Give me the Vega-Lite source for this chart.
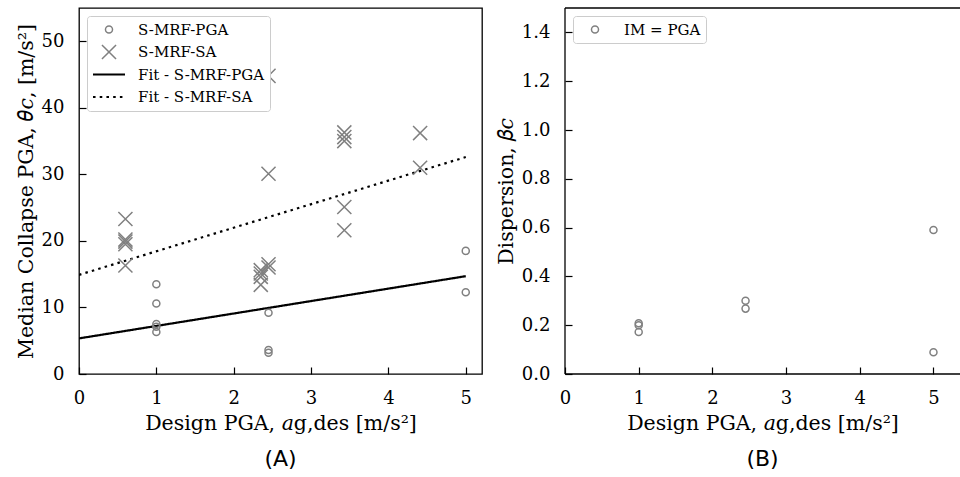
{
  "$schema": "https://vega.github.io/schema/vega-lite/v6.json",
  "background": "white",
  "padding": {"left": 15, "top": 7, "right": 0, "bottom": 0},
  "bounds": "flush",
  "spacing": 83,
  "resolve": {"scale": {"color": "independent", "shape": "independent", "strokeDash": "independent"}},
  "config": {
    "font": "DejaVu Serif",
    "view": {"stroke": "black", "strokeWidth": 1.3},
    "axis": {
      "grid": false, "domain": false,
      "tickColor": "black", "tickWidth": 1.2, "tickSize": 7, "offset": -7,
      "labelFont": "DejaVu Serif", "labelFontSize": 18, "labelColor": "black",
      "titleFont": "DejaVu Serif", "titleFontSize": 20.5, "titleFontWeight": "normal", "titleColor": "black",
      "labelFlush": false, "labelOverlap": false
    },
    "axisX": {"titlePadding": 6, "labelPadding": 15},
    "axisY": {"titlePadding": 5, "labelPadding": 15},
    "legend": {
      "orient": "top-left", "offset": 8, "fillColor": "white", "strokeColor": "#cccccc",
      "cornerRadius": 3, "padding": 5, "labelFont": "DejaVu Serif", "labelFontSize": 15,
      "labelColor": "black", "labelOffset": 12, "symbolSize": 1024, "symbolStrokeWidth": 1.5,
      "clipHeight": 17, "rowPadding": 5.5
    },
    "title": {"font": "DejaVu Sans", "fontSize": 22, "fontWeight": "normal", "orient": "bottom", "anchor": "middle", "offset": 15, "color": "black"}
  },
  "datasets": {
    "median": [
      {"x": 1.0, "y": 13.5, "series": "S-MRF-PGA"},
      {"x": 1.0, "y": 10.6, "series": "S-MRF-PGA"},
      {"x": 1.0, "y": 7.5, "series": "S-MRF-PGA"},
      {"x": 1.0, "y": 7.1, "series": "S-MRF-PGA"},
      {"x": 1.0, "y": 6.3, "series": "S-MRF-PGA"},
      {"x": 2.45, "y": 9.2, "series": "S-MRF-PGA"},
      {"x": 2.45, "y": 3.6, "series": "S-MRF-PGA"},
      {"x": 2.45, "y": 3.2, "series": "S-MRF-PGA"},
      {"x": 5.0, "y": 18.5, "series": "S-MRF-PGA"},
      {"x": 5.0, "y": 12.3, "series": "S-MRF-PGA"},
      {"x": 0.6, "y": 23.3, "series": "S-MRF-SA"},
      {"x": 0.6, "y": 20.2, "series": "S-MRF-SA"},
      {"x": 0.6, "y": 19.9, "series": "S-MRF-SA"},
      {"x": 0.6, "y": 19.5, "series": "S-MRF-SA"},
      {"x": 0.6, "y": 16.3, "series": "S-MRF-SA"},
      {"x": 2.35, "y": 15.6, "series": "S-MRF-SA"},
      {"x": 2.35, "y": 15.1, "series": "S-MRF-SA"},
      {"x": 2.35, "y": 14.6, "series": "S-MRF-SA"},
      {"x": 2.35, "y": 13.4, "series": "S-MRF-SA"},
      {"x": 2.45, "y": 16.5, "series": "S-MRF-SA"},
      {"x": 2.45, "y": 16.0, "series": "S-MRF-SA"},
      {"x": 2.45, "y": 44.8, "series": "S-MRF-SA"},
      {"x": 2.45, "y": 30.1, "series": "S-MRF-SA"},
      {"x": 3.43, "y": 36.3, "series": "S-MRF-SA"},
      {"x": 3.43, "y": 35.6, "series": "S-MRF-SA"},
      {"x": 3.43, "y": 35.0, "series": "S-MRF-SA"},
      {"x": 3.43, "y": 25.1, "series": "S-MRF-SA"},
      {"x": 3.43, "y": 21.6, "series": "S-MRF-SA"},
      {"x": 4.41, "y": 36.2, "series": "S-MRF-SA"},
      {"x": 4.41, "y": 31.0, "series": "S-MRF-SA"}
    ],
    "fits": [
      {"x": 0, "y": 5.35, "series": "Fit - S-MRF-PGA"},
      {"x": 5, "y": 14.7, "series": "Fit - S-MRF-PGA"},
      {"x": 0, "y": 14.9, "series": "Fit - S-MRF-SA"},
      {"x": 5, "y": 32.6, "series": "Fit - S-MRF-SA"}
    ],
    "dispersion": [
      {"x": 1.0, "y": 0.208, "im": "IM = PGA"},
      {"x": 1.0, "y": 0.200, "im": "IM = PGA"},
      {"x": 1.0, "y": 0.172, "im": "IM = PGA"},
      {"x": 2.45, "y": 0.300, "im": "IM = PGA"},
      {"x": 2.45, "y": 0.268, "im": "IM = PGA"},
      {"x": 5.0, "y": 0.590, "im": "IM = PGA"},
      {"x": 5.0, "y": 0.089, "im": "IM = PGA"}
    ],
    "spines": [
      {"x": 0, "y": 0, "top": 1.5}
    ]
  },
  "hconcat": [
    {
      "width": 403,
      "height": 366,
      "title": {"text": "(A)"},
      "layer": [
        {
          "data": {"name": "fits"},
          "mark": {"type": "line", "color": "black", "strokeWidth": 2.2, "clip": true},
          "encoding": {
            "x": {"field": "x", "type": "quantitative", "scale": {"domain": [0, 5.21], "nice": false, "zero": false},
                  "axis": {"values": [0, 1, 2, 3, 4, 5], "format": "d", "title": "Design PGA, 𝑎g,des [m/s²]"}},
            "y": {"field": "y", "type": "quantitative", "scale": {"domain": [0, 55], "nice": false},
                  "axis": {"values": [0, 10, 20, 30, 40, 50], "format": "d", "title": "Median Collapse PGA, 𝜃𝑐, [m/s²]"}},
            "strokeDash": {"field": "series", "type": "nominal",
                           "scale": {"domain": ["Fit - S-MRF-PGA", "Fit - S-MRF-SA"], "range": [[1, 0], [2.5, 4.2]]},
                           "legend": null}
          }
        },
        {
          "data": {"name": "median"},
          "mark": {"type": "point", "filled": false, "strokeWidth": 1.5, "opacity": 1, "size": 1024},
          "encoding": {
            "x": {"field": "x", "type": "quantitative"},
            "y": {"field": "y", "type": "quantitative"},
            "shape": {"field": "series", "type": "nominal",
                      "scale": {"domain": ["S-MRF-PGA", "S-MRF-SA", "Fit - S-MRF-PGA", "Fit - S-MRF-SA"],
                                "range": [
                                  "M-0.22,0A0.22,0.22 0 1,0 0.22,0A0.22,0.22 0 1,0 -0.22,0Z",
                                  "M-0.44,-0.44L0.44,0.44M-0.44,0.44L0.44,-0.44",
                                  "M-1,-0.02L1,-0.02M-1,0.02L1,0.02",
                                  "M-1,-0.02L-0.84,-0.02M-0.58,-0.02L-0.42,-0.02M-0.16,-0.02L0,-0.02M0.26,-0.02L0.42,-0.02M0.68,-0.02L0.84,-0.02M-1,0.02L-0.84,0.02M-0.58,0.02L-0.42,0.02M-0.16,0.02L0,0.02M0.26,0.02L0.42,0.02M0.68,0.02L0.84,0.02"
                                ]},
                      "legend": {"title": null}},
            "color": {"field": "series", "type": "nominal",
                      "scale": {"domain": ["S-MRF-PGA", "S-MRF-SA", "Fit - S-MRF-PGA", "Fit - S-MRF-SA"],
                                "range": ["#808080", "#808080", "black", "black"]},
                      "legend": {"title": null}}
          }
        }
      ]
    },
    {
      "width": 395,
      "height": 366,
      "title": {"text": "(B)"},
      "view": {"stroke": null},
      "layer": [
        {
          "data": {"name": "spines"},
          "mark": {"type": "rule", "color": "black", "strokeWidth": 1.3},
          "encoding": {"y": {"field": "top", "type": "quantitative"}}
        },
        {
          "data": {"name": "spines"},
          "mark": {"type": "rule", "color": "black", "strokeWidth": 1.3},
          "encoding": {"y": {"field": "y", "type": "quantitative"}}
        },
        {
          "data": {"name": "spines"},
          "mark": {"type": "rule", "color": "black", "strokeWidth": 1.3},
          "encoding": {"x": {"field": "x", "type": "quantitative"}}
        },
        {
          "data": {"name": "dispersion"},
          "mark": {"type": "point", "filled": false, "strokeWidth": 1.5, "opacity": 1, "size": 1024},
          "encoding": {
            "x": {"field": "x", "type": "quantitative", "scale": {"domain": [0, 5.36], "nice": false, "zero": false},
                  "axis": {"values": [0, 1, 2, 3, 4, 5], "format": "d", "title": "Design PGA, 𝑎g,des [m/s²]"}},
            "y": {"field": "y", "type": "quantitative", "scale": {"domain": [0, 1.5], "nice": false},
                  "axis": {"values": [0, 0.2, 0.4, 0.6, 0.8, 1.0, 1.2, 1.4], "format": ".1f", "title": "Dispersion, 𝛽𝑐"}},
            "shape": {"field": "im", "type": "nominal",
                      "scale": {"domain": ["IM = PGA"], "range": ["M-0.22,0A0.22,0.22 0 1,0 0.22,0A0.22,0.22 0 1,0 -0.22,0Z"]},
                      "legend": {"title": null}},
            "color": {"field": "im", "type": "nominal", "scale": {"domain": ["IM = PGA"], "range": ["#808080"]},
                      "legend": {"title": null}}
          }
        }
      ]
    }
  ]
}
